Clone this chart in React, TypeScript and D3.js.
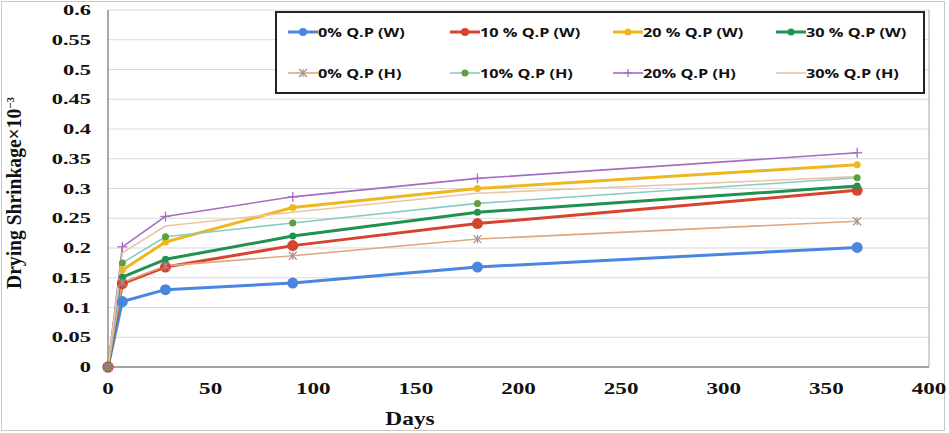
import React from "react";
import * as d3 from "d3";

const days = [0, 7, 28, 90, 180, 365];
const seriesNames = ["0% Q.P (W)", "10 % Q.P (W)", "20 % Q.P (W)", "30 % Q.P (W)", "0% Q.P (H)", "10% Q.P (H)", "20% Q.P (H)", "30% Q.P (H)"];
const w0 = [0, 0.11, 0.13, 0.141, 0.168, 0.201];
const w10 = [0, 0.14, 0.168, 0.204, 0.241, 0.297];
const w20 = [0, 0.163, 0.21, 0.268, 0.3, 0.34];
const w30 = [0, 0.151, 0.181, 0.22, 0.26, 0.304];
const h0 = [0, 0.142, 0.17, 0.187, 0.215, 0.245];
const h10 = [0, 0.175, 0.219, 0.242, 0.275, 0.318];
const h20 = [0, 0.202, 0.253, 0.286, 0.317, 0.36];
const h30 = [0, 0.192, 0.237, 0.26, 0.292, 0.32];
const yTicks = [0, 0.05, 0.1, 0.15, 0.2, 0.25, 0.3, 0.35, 0.4, 0.45, 0.5, 0.55, 0.6];
const xTicks = [0, 50, 100, 150, 200, 250, 300, 350, 400];

type Style = { color: string; width: number; marker: string; mColor: string; r: number };
const styles: Style[] = [
  { color: "#4a86e0", width: 3, marker: "circle", mColor: "#4a86e0", r: 5.5 },
  { color: "#d8432e", width: 3, marker: "circle", mColor: "#d8432e", r: 5.5 },
  { color: "#f0b61e", width: 3, marker: "circle", mColor: "#f0b61e", r: 3.5 },
  { color: "#1f9150", width: 3, marker: "circle", mColor: "#1f9150", r: 3.5 },
  { color: "#e2a77c", width: 1.6, marker: "star", mColor: "#a09090", r: 4 },
  { color: "#86ccc4", width: 1.6, marker: "circle", mColor: "#5f9e3a", r: 3.5 },
  { color: "#a66cc2", width: 1.6, marker: "plus", mColor: "#a66cc2", r: 5 },
  { color: "#e9c6a4", width: 1.6, marker: "none", mColor: "#e9c6a4", r: 0 },
];
const allValues = [w0, w10, w20, w30, h0, h10, h20, h30];

const x = d3.scaleLinear().domain([0, 400]).range([108, 929]);
const y = d3.scaleLinear().domain([0, 0.6]).range([367, 10]);

function Marker({ s, cx, cy }: { s: Style; cx: number; cy: number }) {
  if (s.marker === "circle") return <circle cx={cx} cy={cy} r={s.r} fill={s.mColor} />;
  if (s.marker === "plus")
    return (
      <g stroke={s.mColor} strokeWidth={1.3}>
        <line x1={cx - s.r} y1={cy} x2={cx + s.r} y2={cy} />
        <line x1={cx} y1={cy - s.r} x2={cx} y2={cy + s.r} />
      </g>
    );
  if (s.marker === "star")
    return (
      <g stroke={s.mColor} strokeWidth={1.2}>
        <line x1={cx - s.r} y1={cy - s.r} x2={cx + s.r} y2={cy + s.r} />
        <line x1={cx - s.r} y1={cy + s.r} x2={cx + s.r} y2={cy - s.r} />
        <line x1={cx} y1={cy - s.r} x2={cx} y2={cy + s.r} />
      </g>
    );
  return null;
}

export default function App() {
  const line = d3
    .line<number>()
    .x((_, i) => x(days[i]))
    .y((v) => y(v));
  const order = [0, 1, 2, 3, 4, 5, 6, 7];
  const legendCols = [288, 450, 613, 776];
  const legendRows = [32, 73];
  return (
    <svg width={949} height={433} style={{ position: "absolute", left: 0, top: 0, background: "#fff" }}>
      <rect x={1.5} y={1.5} width={943} height={429} fill="#fff" stroke="#c8c8c8" />
      {yTicks.map((t) => (
        <line key={t} x1={108} x2={929} y1={y(t)} y2={y(t)} stroke="#d9d9d9" strokeWidth={1} />
      ))}
      <line x1={929} x2={929} y1={10} y2={367} stroke="#a6a6a6" />
      <line x1={108} x2={108} y1={10} y2={367} stroke="#8c8c8c" strokeWidth={1.5} />
      <line x1={108} x2={929} y1={367} y2={367} stroke="#8c8c8c" strokeWidth={1.5} />
      {yTicks.map((t) => (
        <text
          key={t}
          transform={`translate(91,${y(t) + 5}) scale(1.6,1)`}
          textAnchor="end"
          fontFamily="Liberation Serif"
          fontWeight="bold"
          fontSize={14}
          fill="#111"
        >
          {String(t)}
        </text>
      ))}
      {xTicks.map((t) => (
        <text
          key={t}
          transform={`translate(${x(t)},394) scale(1.4,1)`}
          textAnchor="middle"
          fontFamily="Liberation Serif"
          fontWeight="bold"
          fontSize={16.5}
          fill="#111"
        >
          {t}
        </text>
      ))}
      <text
        transform="translate(410,425) scale(1.3,1)"
        textAnchor="middle"
        fontFamily="Liberation Serif"
        fontWeight="bold"
        fontSize={18}
        fill="#111"
      >
        Days
      </text>
      <text
        transform="translate(21,193) rotate(-90) scale(1,1.12)"
        textAnchor="middle"
        fontFamily="Liberation Serif"
        fontWeight="bold"
        fontSize={18}
        fill="#111"
        textLength={192}
        lengthAdjust="spacingAndGlyphs"
      >
        Drying Shrinkage×10
        <tspan fontSize={10} dy={-6}>
          −3
        </tspan>
      </text>
      {order.map((si) => (
        <path
          key={"l" + si}
          d={line(allValues[si]) || ""}
          fill="none"
          stroke={styles[si].color}
          strokeWidth={styles[si].width}
          strokeLinejoin="round"
        />
      ))}
      {order.map((si) =>
        allValues[si].map((v, i) => <Marker key={"m" + si + "-" + i} s={styles[si]} cx={x(days[i])} cy={y(v)} />)
      )}
      <rect x={276} y={12} width={648} height={81} fill="#fff" stroke="#222" strokeWidth={2} />
      {seriesNames.map((name, i) => {
        const cx = legendCols[i % 4];
        const cy = legendRows[Math.floor(i / 4)];
        const s = styles[i];
        return (
          <g key={name}>
            <line x1={cx} x2={cx + 30} y1={cy} y2={cy} stroke={s.color} strokeWidth={s.width} />
            <Marker s={{ ...s, r: Math.min(s.r, 4) }} cx={cx + 15} cy={cy} />
            <text
              transform={`translate(${cx + 30},${cy + 5}) scale(1.25,1)`}
              fontFamily="Open Sans"
              fontWeight="bold"
              fontSize={13}
              fill="#111"
            >
              {name}
            </text>
          </g>
        );
      })}
    </svg>
  );
}
